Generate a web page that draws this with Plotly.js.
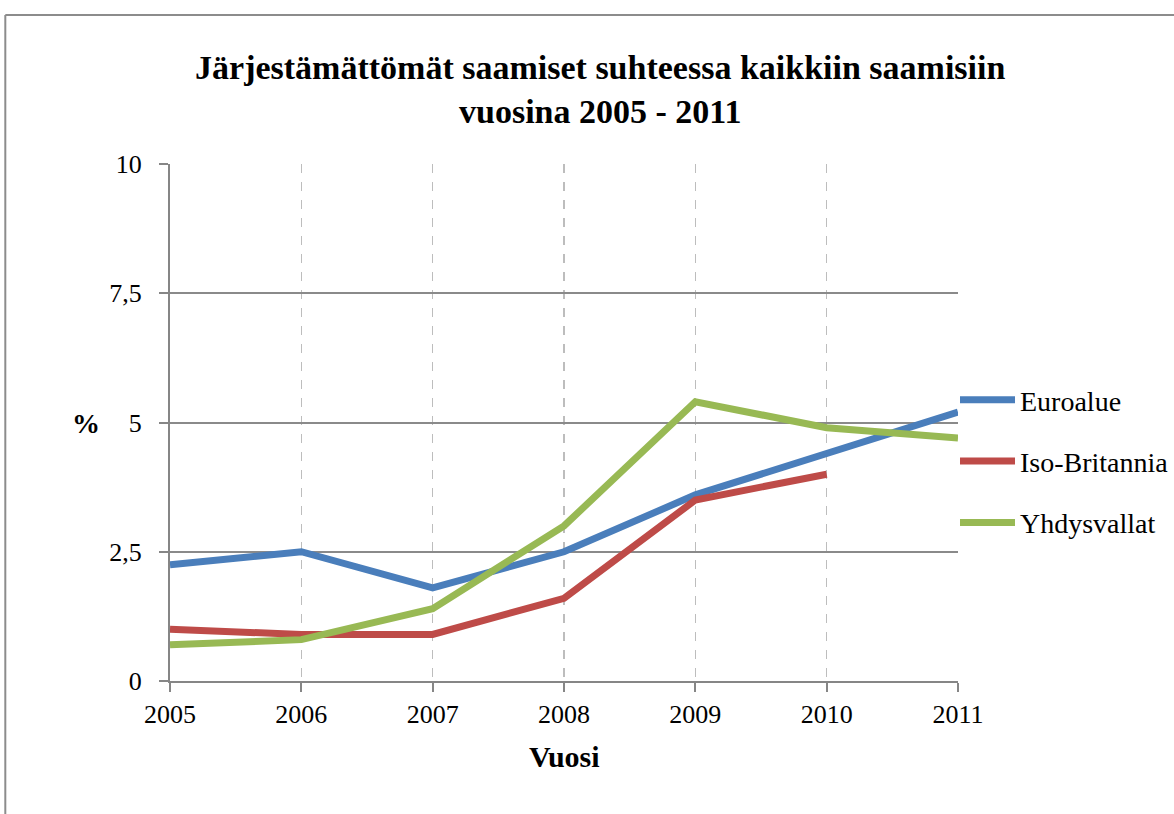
<!DOCTYPE html>
<html><head><meta charset="utf-8">
<script src="https://cdn.plot.ly/plotly-3.0.1.min.js"></script>
<style>html,body{margin:0;padding:0;background:#fff}#chart{width:1174px;height:814px}</style>
</head><body><div id="chart"></div>
<script>
const years = [2005, 2006, 2007, 2008, 2009, 2010, 2011];
const euroalue = [2.25, 2.5, 1.8, 2.5, 3.6, 4.4, 5.2];
const isoBritannia = [1.0, 0.9, 0.9, 1.6, 3.5, 4.0, null];
const yhdysvallat = [0.7, 0.8, 1.4, 3.0, 5.4, 4.9, 4.7];
const seriesNames = ['Euroalue', 'Iso-Britannia', 'Yhdysvallat'];
const yTicks = [0, 2.5, 5, 7.5, 10];

const F = 'Liberation Serif, Tinos, Times New Roman, serif';
const colors = ['#4a7ebb', '#be4b48', '#98b954'];
const data = [euroalue, isoBritannia, yhdysvallat].map((ys, i) => ({
  x: years, y: ys, name: seriesNames[i], type: 'scatter', mode: 'lines',
  line: {color: colors[i], width: 7}, legendgroup: 'g' + i, connectgaps: false
}));

const layout = {
  width: 1174, height: 814,
  margin: {l: 170, r: 216, t: 164, b: 133, autoexpand: false},
  paper_bgcolor: '#fff', plot_bgcolor: '#fff',
  separators: ', ',
  font: {family: F, size: 26, color: '#000'},
  title: {text: '<b>Järjestämättömät saamiset suhteessa kaikkiin saamisiin<br>vuosina 2005 - 2011</b>',
    font: {family: F, size: 34, color: '#000'}, x: 0.546, xref: 'paper', xanchor: 'center', y: 0.903, yanchor: 'middle'},
  xaxis: {range: [2005, 2011], tickvals: years, ticktext: years.map(String), showgrid: true,
    gridcolor: '#bdbdbd', griddash: 'dash', gridwidth: 1.3, showline: true, linecolor: '#868686', linewidth: 2,
    ticks: 'outside', ticklen: 9, tickwidth: 2, tickcolor: '#868686', zeroline: false,
    tickfont: {family: F, size: 26, color: '#000'}},
  yaxis: {range: [0, 10], tickvals: yTicks, showgrid: true, gridcolor: '#8a8a8a', gridwidth: 2,
    showline: true, linecolor: '#868686', linewidth: 2, ticks: 'outside', ticklen: 9, tickwidth: 2,
    tickcolor: '#868686', zeroline: false, tickformat: ',.1~f', ticklabelstandoff: 12,
    tickfont: {family: F, size: 26, color: '#000'}},
  showlegend: true,
  legend: {x: 0.9962, xanchor: 'left', y: 0.592, yanchor: 'top', traceorder: 'grouped', tracegroupgap: 22,
    itemwidth: 55, font: {family: F, size: 28, color: '#000'}, bgcolor: 'rgba(0,0,0,0)'},
  annotations: [
    {text: '<b>%</b>', xref: 'paper', yref: 'paper', x: -0.107, y: 0.499, xanchor: 'center', yanchor: 'middle',
      showarrow: false, font: {family: F, size: 28, color: '#000'}},
    {text: '<b>Vuosi</b>', xref: 'paper', yref: 'paper', x: 0.5, y: -0.147, xanchor: 'center', yanchor: 'middle',
      showarrow: false, font: {family: F, size: 30, color: '#000'}}
  ],
  shapes: [
    {type: 'line', xref: 'paper', yref: 'paper', x0: -0.209, x1: -0.209, y0: -0.3, y1: 1.288,
      line: {color: '#8c8c8c', width: 2}},
    {type: 'line', xref: 'paper', yref: 'paper', x0: -0.209, x1: 1.3, y0: 1.288, y1: 1.288,
      line: {color: '#8c8c8c', width: 2}}
  ]
};
Plotly.newPlot('chart', data, layout, {displayModeBar: false, staticPlot: true});
</script></body></html>
